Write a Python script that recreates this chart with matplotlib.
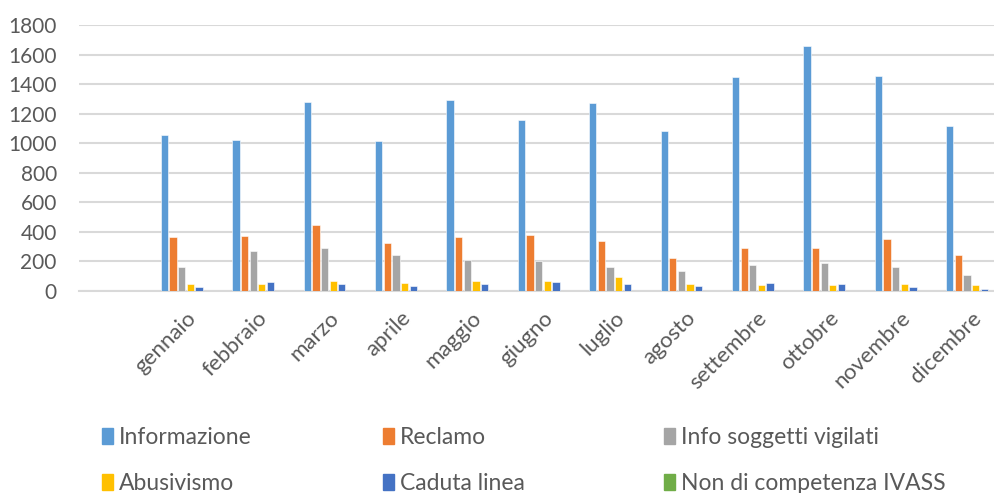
import numpy as np
import matplotlib
matplotlib.use('Agg')
import matplotlib.pyplot as plt
from matplotlib.patches import Patch

plt.rcParams['font.family'] = ['Lato', 'DejaVu Sans']

mesi = ['gennaio', 'febbraio', 'marzo', 'aprile', 'maggio', 'giugno',
        'luglio', 'agosto', 'settembre', 'ottobre', 'novembre', 'dicembre']

informazione = [1055, 1025, 1280, 1017, 1290, 1158, 1270, 1080, 1448, 1657, 1455, 1115]
reclamo      = [365, 372, 450, 328, 363, 382, 336, 220, 292, 292, 352, 246]
info_sogg    = [163, 270, 290, 245, 212, 205, 160, 132, 175, 190, 165, 108]
abusivismo   = [50, 48, 65, 56, 70, 65, 92, 47, 42, 42, 45, 42]
caduta       = [30, 58, 48, 33, 47, 62, 48, 36, 54, 45, 28, 15]
non_compet   = [0, 0, 0, 0, 0, 0, 0, 2, 0, 0, 0, 0]

serie = ['Informazione', 'Reclamo', 'Info soggetti vigilati',
         'Abusivismo', 'Caduta linea', 'Non di competenza IVASS']
valori = [informazione, reclamo, info_sogg, abusivismo, caduta, non_compet]
colori = ['#5B9BD5', '#ED7D31', '#A5A5A5', '#FFC000', '#4472C4', '#70AD47']

W, H = 995, 493
fig = plt.figure(figsize=(W / 100, H / 100), dpi=100)
# l'asse delle categorie ha una prima categoria vuota e prosegue oltre il bordo destro
ax = fig.add_axes([79 / W, 202 / H, 928 / W, 266 / H])

x = np.arange(1, len(mesi) + 1)
passo = 0.121
larg = 0.102
for i, (nome, v, c) in enumerate(zip(serie, valori, colori)):
    ax.bar(x + (i - 2.5) * passo, v, larg, color=c, label=nome,
           edgecolor='white', linewidth=0.4, zorder=3)

ax.set_xlim(-0.5, 12.5)
ax.set_ylim(0, 1800)
ax.set_yticks(range(0, 1801, 200))
ax.grid(axis='y', color='#D9D9D9', linewidth=1.5, zorder=0)
for s in ['top', 'right', 'left']:
    ax.spines[s].set_visible(False)
ax.spines['bottom'].set_color('#D9D9D9')
ax.spines['bottom'].set_linewidth(1.5)
ax.tick_params(length=0, colors='#595959')
ax.tick_params(axis='y', pad=16, labelsize=15)
ax.set_xticks(x)
ax.set_xticklabels(mesi, rotation=45, ha='right', rotation_mode='anchor')
ax.tick_params(axis='x', pad=12, labelsize=16)

# legenda: tre colonne a passo fisso come in Excel
handles = [Patch(color=c) for c in colori]
for col in range(3):
    idx = [col, col + 3]
    leg = fig.legend([handles[k] for k in idx], [serie[k] for k in idx],
                     loc='upper left', bbox_to_anchor=((102 + col * 281) / W, 1 - 427 / H),
                     frameon=False, fontsize=16.5, handlelength=0.5, handleheight=0.7,
                     handletextpad=0.25, labelspacing=1.1, borderaxespad=0,
                     borderpad=0, labelcolor='#595959')

fig.savefig('out.png', dpi=100)
